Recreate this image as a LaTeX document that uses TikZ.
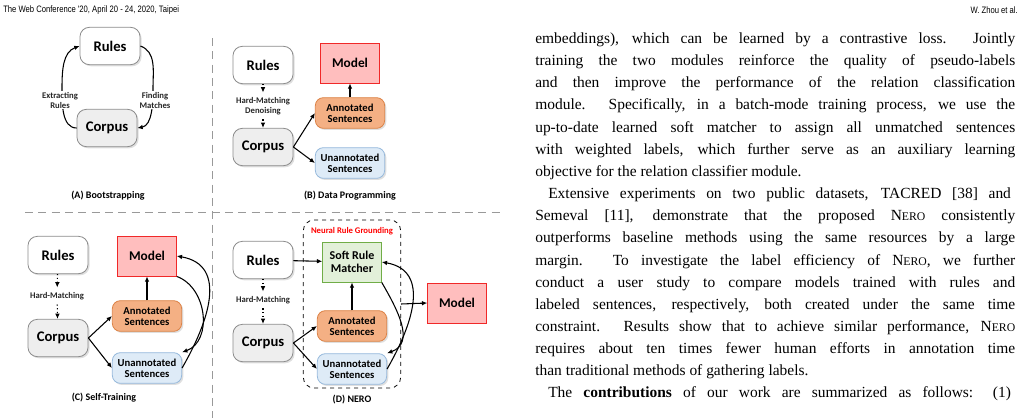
\documentclass[tikz,border=0pt]{standalone}
\usepackage{fontspec}
\setmainfont{Liberation Serif}
\newfontfamily\figf{Carlito}
\newfontfamily\hdf{Liberation Sans}[FakeStretch=0.82]
\usetikzlibrary{shadows,arrows.meta}
\definecolor{boxgray}{RGB}{238,238,238}
\definecolor{modfill}{RGB}{255,190,190}
\definecolor{modedge}{RGB}{240,40,40}
\definecolor{annfill}{RGB}{244,176,132}
\definecolor{annedge}{RGB}{220,130,70}
\definecolor{unfill}{RGB}{222,235,247}
\definecolor{unedge}{RGB}{150,185,220}
\definecolor{smfill}{RGB}{226,240,217}
\definecolor{smedge}{RGB}{112,173,71}
\tikzset{
 base/.style={draw=black!45,line width=0.6pt,rounded corners=7pt,font=\figf\bfseries\fontsize{11}{12}\selectfont,
   drop shadow={shadow xshift=1.2pt,shadow yshift=-1.2pt,fill=black!25},align=center},
 rules/.style={base,fill=white,minimum width=45pt,minimum height=28pt},
 corpus/.style={base,fill=boxgray,minimum width=45pt,minimum height=28pt},
 model/.style={draw=modedge,fill=modfill,line width=0.6pt,minimum width=44pt,minimum height=30pt,font=\figf\bfseries\fontsize{10}{11}\selectfont},
 ann/.style={base,rounded corners=6pt,draw=annedge,fill=annfill,minimum width=52pt,minimum height=23pt,font=\figf\bfseries\fontsize{8}{8.5}\selectfont,inner sep=1pt},
 unann/.style={ann,draw=unedge,fill=unfill},
 soft/.style={draw=smedge,fill=smfill,line width=0.6pt,minimum width=44pt,minimum height=30pt,align=center,font=\figf\bfseries\fontsize{9}{10}\selectfont},
 lab/.style={font=\figf\bfseries\fontsize{6.5}{7.5}\selectfont,align=center,text=black!85},
 capt/.style={font=\figf\bfseries\fontsize{7.5}{8}\selectfont},
 arr/.style={-{Latex[length=4pt,width=3.5pt]},line width=0.8pt},
 dot/.style={arr,dotted},
 sep/.style={black!40,line width=0.6pt,dash pattern=on 6pt off 4pt},
 txt/.style={anchor=west,inner sep=0pt,font=\fontsize{11.6}{13}\selectfont},
}
\newcommand{\tline}[1]{\makebox[360pt][s]{#1}}
\newcommand{\nero}{N{\fontsize{8.8}{10}\selectfont ERO}}
\begin{document}
\begin{tikzpicture}[x=0.75pt,y=-0.75pt]
\useasboundingbox (0,0) rectangle (1023,418);
\node[anchor=west,inner sep=0pt,font=\hdf\fontsize{7}{8}\selectfont] (h1) at (3,10) {The Web Conference '20, April 20 - 24, 2020, Taipei};
\node[anchor=east,inner sep=0pt,font=\hdf\fontsize{7}{8}\selectfont] (h2) at (1018,10) {W. Zhou et al.};
% separators
\draw[sep] (212,38) -- (212,418);
\draw[sep] (25,212) -- (500,212);
% (A)
\node[rules] (ar) at (110,46) {Rules};
\node[corpus] (ac) at (107,128) {Corpus};
\draw[arr] (ac.west) to[out=180,in=-90,looseness=0.9] (62,88) to[out=90,in=200] (ar.west);
\draw[arr] (ar.east) to[out=-20,in=90] (153,88) to[out=-90,in=10,looseness=0.9] (ac.east);
\node[lab,fill=white,inner sep=1pt] (ae) at (60,100) {Extracting\\Rules};
\node[lab,fill=white,inner sep=1pt] (af) at (155,100) {Finding\\Matches};
\node[capt] (acap) at (108,196) {(A) Bootstrapping};
% (B)
\node[rules] (br) at (263,65) {Rules};
\node[model] (bm) at (350,63) {Model};
\node[ann] (ba) at (350,113) {Annotated\\Sentences};
\node[corpus] (bc) at (263,147) {Corpus};
\node[unann] (bu) at (350,163) {Unannotated\\Sentences};
\node[lab] (bl) at (263,106) {Hard-Matching\\Denoising};
\draw[dot] (br) -- (bl);
\draw[dot] (bl) -- (bc);
\draw[arr] (ba) -- (bm);
\draw[arr] (bc.east) -- (ba.west);
\draw[arr] (bc.east) -- (bu.west);
\node[capt] (bcap) at (350,196) {(B) Data Programming};
% (C)
\node[rules] (cr) at (58,255) {Rules};
\node[model] (cm) at (147,256) {Model};
\node[ann] (ca) at (147,316) {Annotated\\Sentences};
\node[corpus] (cc) at (58,338) {Corpus};
\node[unann] (cu) at (147,368) {Unannotated\\Sentences};
\node[lab] (cl) at (57,296) {Hard-Matching};
\draw[dot] (cr) -- (cl);
\draw[dot] (cl) -- (cc);
\draw[arr] (ca) -- (cm);
\draw[arr] (cc.east) -- (ca.west);
\draw[arr] (cc.east) -- (cu.west);
\draw[arr] (cm.south east) to[out=-20,in=20,looseness=1.1] (cu.north east);
\draw[arr] (cu.east) to[out=60,in=-10,looseness=1.2] (cm.east);
\node[capt] (ccap) at (104,398) {(C) Self-Training};
% (D)
\node[draw,dashed,rounded corners=8pt,line width=0.6pt,minimum width=73pt,minimum height=126pt] (dbox) at (352,304) {};
\node[font=\figf\bfseries\fontsize{6.5}{7}\selectfont,text=red] (dng) at (352,231) {Neural Rule Grounding};
\node[rules] (dr) at (263,260) {Rules};
\node[soft] (ds) at (352,262) {Soft Rule\\Matcher};
\node[ann] (da) at (352,326) {Annotated\\Sentences};
\node[corpus] (dc) at (263,343) {Corpus};
\node[unann] (du) at (352,369) {Unannotated\\Sentences};
\node[model] (dm) at (457,303) {Model};
\node[lab] (dl) at (263,300) {Hard-Matching};
\draw[dot] (dr) -- (dl);
\draw[dot] (dl) -- (dc);
\draw[arr] (dr) -- (ds);
\draw[arr] (da) -- (ds);
\draw[arr] (dc.east) -- (da.west);
\draw[arr] (dc.east) -- (du.west);
\draw[arr] (ds.south east) to[out=-60,in=20,looseness=1.1] (du.north east);
\draw[arr] (du.east) to[out=60,in=-10,looseness=1.2] (ds.east);
\draw[arr] (dbox.east) -- (dm.west);
\node[capt] (dcap) at (352,400) {(D) NERO};
% text
\node[txt] (t1) at (535,40) {\tline{embeddings), which can be learned by a contrastive loss. Jointly}};
\node[txt] (t2) at (535,62) {\tline{training the two modules reinforce the quality of pseudo-labels}};
\node[txt] (t3) at (535,84) {\tline{and then improve the performance of the relation classification}};
\node[txt] (t4) at (535,106) {\tline{module. Specifically, in a batch-mode training process, we use the}};
\node[txt] (t5) at (535,129) {\tline{up-to-date learned soft matcher to assign all unmatched sentences}};
\node[txt] (t6) at (535,151) {\tline{with weighted labels, which further serve as an auxiliary learning}};
\node[txt] (t7) at (535,173) {objective for the relation classifier module.};
\node[txt] (t8) at (548,195) {\makebox[347pt][s]{Extensive experiments on two public datasets, TACRED [38] and}};
\node[txt] (t9) at (535,217) {\tline{Semeval [11], demonstrate that the proposed \nero{} consistently}};
\node[txt] (t10) at (535,239) {\tline{outperforms baseline methods using the same resources by a large}};
\node[txt] (t11) at (535,262) {\tline{margin. To investigate the label efficiency of \nero, we further}};
\node[txt] (t12) at (535,284) {\tline{conduct a user study to compare models trained with rules and}};
\node[txt] (t13) at (535,306) {\tline{labeled sentences, respectively, both created under the same time}};
\node[txt] (t14) at (535,328) {\tline{constraint. Results show that to achieve similar performance, \nero}};
\node[txt] (t15) at (535,350) {\tline{requires about ten times fewer human efforts in annotation time}};
\node[txt] (t16) at (535,372) {than traditional methods of gathering labels.};
\node[txt] (t17) at (548,394) {\makebox[347pt][s]{The \textbf{contributions} of our work are summarized as follows: (1)}};
\end{tikzpicture}
\end{document}
